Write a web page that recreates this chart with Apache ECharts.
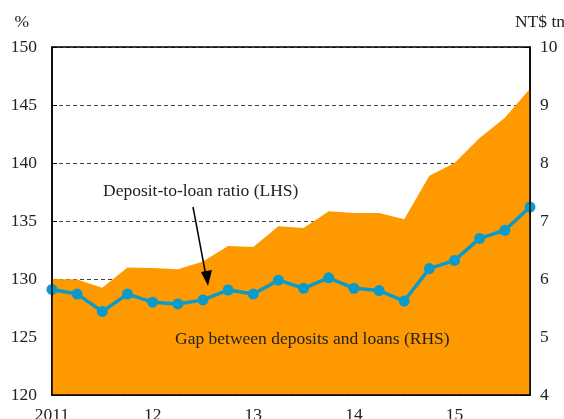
<!DOCTYPE html>
<html><head><meta charset="utf-8">
<script src="https://cdn.jsdelivr.net/npm/echarts@6/dist/echarts.min.js"></script>
<style>html,body{margin:0;padding:0;background:#fff}#c{width:564px;height:419px}</style>
</head><body><div id="c"></div>
<script>
const categories = ['2011Q1','2011Q2','2011Q3','2011Q4','2012Q1','2012Q2','2012Q3','2012Q4','2013Q1','2013Q2','2013Q3','2013Q4','2014Q1','2014Q2','2014Q3','2014Q4','2015Q1','2015Q2','2015Q3','2015Q4'];
const xTickLabels = ['2011','12','13','14','15'];
const gapRHS = [6.0, 5.99, 5.85, 6.2, 6.19, 6.17, 6.3, 6.57, 6.55, 6.91, 6.88, 7.17, 7.14, 7.14, 7.03, 7.78, 8.0, 8.43, 8.78, 9.28];
const ratioLHS = [129.1, 128.7, 127.2, 128.7, 128.0, 127.85, 128.2, 129.05, 128.7, 129.9, 129.2, 130.1, 129.2, 129.0, 128.1, 130.9, 131.6, 133.5, 134.2, 136.2];
const leftTicks = [120,125,130,135,140,145,150];
const rightTicks = [4,5,6,7,8,9,10];

const FONT = 'Liberation Serif';
const FS = 17.5;
const chart = echarts.init(document.getElementById('c'), null, {renderer:'canvas'});
chart.setOption({
  animation:false,
  textStyle:{fontFamily:FONT},
  grid:{left:52,right:34,top:47,bottom:24,containLabel:false,outerBoundsMode:'none',show:true,borderColor:'#000',borderWidth:1.5,backgroundColor:'transparent',z:5},
  xAxis:{type:'category',data:categories,boundaryGap:false,
    axisLine:{show:true,lineStyle:{color:'#000',width:1.5}},
    axisTick:{show:true,inside:true,interval:3,length:5,lineStyle:{color:'#000'}},
    axisLabel:{interval:3,color:'#222',fontSize:FS,fontFamily:FONT,margin:11,
      formatter:(v,i)=>xTickLabels[i/4]},
    splitLine:{show:false}},
  yAxis:[
    {type:'value',min:120,max:150,interval:5,position:'left',
     name:'%',nameLocation:'end',nameGap:16,nameTextStyle:{color:'#222',fontSize:FS,fontFamily:FONT,align:'right',padding:[0,23,0,0]},
     axisLine:{show:true,lineStyle:{color:'#000',width:1.5}},
     axisTick:{show:true,inside:true,length:5,lineStyle:{color:'#000'}},
     axisLabel:{color:'#222',fontSize:FS,fontFamily:FONT,margin:15,formatter:v=>leftTicks.includes(v)?String(v):''},
     splitLine:{show:true,lineStyle:{color:'#444',type:[4,3],width:1}}},
    {type:'value',min:4,max:10,interval:1,position:'right',
     name:'NT$ tn',nameLocation:'end',nameGap:16,nameTextStyle:{color:'#222',fontSize:FS,fontFamily:FONT,align:'center',padding:[0,0,0,20]},
     axisLine:{show:true,lineStyle:{color:'#000',width:1.5}},
     axisTick:{show:true,inside:true,length:5,lineStyle:{color:'#000'}},
     axisLabel:{color:'#222',fontSize:FS,fontFamily:FONT,margin:10,formatter:v=>rightTicks.includes(v)?String(v):''},
     splitLine:{show:false}}
  ],
  series:[
    {type:'line',name:'Gap',yAxisIndex:1,data:gapRHS,symbol:'none',z:1,
     lineStyle:{width:0},areaStyle:{color:'#FF9900',opacity:1},itemStyle:{color:'#FF9900'}},
    {type:'line',name:'Ratio',yAxisIndex:0,data:ratioLHS,symbol:'circle',symbolSize:11,z:3,
     lineStyle:{color:'#0A9BCB',width:3.5},itemStyle:{color:'#0A9BCB'}}
  ],
  graphic:[
    {type:'text',left:103,top:182,z:10,style:{text:'Deposit-to-loan ratio (LHS)',font:FS+'px "Liberation Serif"',fill:'#222'}},
    {type:'text',left:175,top:330,z:10,style:{text:'Gap between deposits and loans (RHS)',font:FS+'px "Liberation Serif"',fill:'#222'}},
    {type:'line',z:10,shape:{x1:193,y1:207,x2:206,y2:276},style:{stroke:'#000',lineWidth:1.5}},
    {type:'polygon',z:10,shape:{points:[[208,286],[201,272],[212,270]]},style:{fill:'#000'}}
  ]
});
</script></body></html>
